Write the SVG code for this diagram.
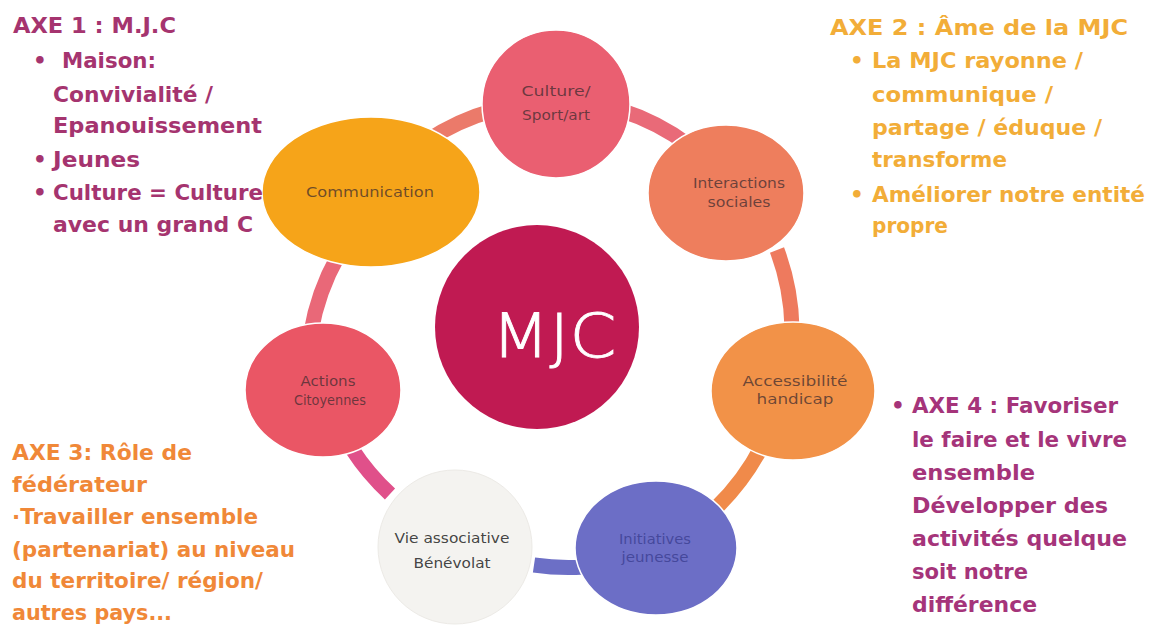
<svg xmlns="http://www.w3.org/2000/svg" width="1159" height="634" viewBox="0 0 1159 634">
<style>
.side{font-family:"DejaVu Sans","Liberation Sans",sans-serif;font-size:21.5px;font-weight:bold}
.a1{fill:#a5346f}.a2{fill:#f2ad38}.a3{fill:#f08838}.a4{fill:#a5347a}
.lbl{font-family:"DejaVu Sans","Liberation Sans",sans-serif;font-size:14.5px;text-anchor:middle;fill:#3a2a2e;fill-opacity:0.72}
.node{stroke:#ffffff;stroke-width:1.5}
.conn{fill:none;stroke-width:15;stroke-linecap:butt}
</style>
<rect width="1159" height="634" fill="#ffffff"/>

<g id="connectors">
<path class="conn" d="M425,142 A235,235 0 0 1 495,110" stroke="#eb7a6a"/>
<path class="conn" d="M620,110 A235,235 0 0 1 690,146" stroke="#e96a78"/>
<path class="conn" d="M777,250 A235,235 0 0 1 792,328" stroke="#ee7a5e"/>
<path class="conn" d="M762,446 A235,235 0 0 1 716,508" stroke="#f08a4a"/>
<path class="conn" d="M584,567 A235,235 0 0 1 534,565" stroke="#6c6fc6" stroke-width="18"/>
<path class="conn" d="M390,494 A235,235 0 0 1 352,449" stroke="#e0508a" stroke-width="18"/>
<path class="conn" d="M311,332 A235,235 0 0 1 338,256" stroke="#e96878"/>
</g>

<g id="node-mjc">
<circle cx="537" cy="327" r="102" fill="#c01a52"/>
<text x="554" y="357" font-family="DejaVu Sans, Liberation Sans, sans-serif" font-weight="200" font-size="60" fill="#ffffff" stroke="#ffffff" stroke-width="0.8" text-anchor="middle" textLength="125" lengthAdjust="spacingAndGlyphs">MJC</text>
</g>

<g id="node-culture">
<circle class="node" cx="556" cy="104" r="74" fill="#ea5f71"/>
<text class="lbl" x="556" y="96" textLength="69" lengthAdjust="spacingAndGlyphs">Culture/</text>
<text class="lbl" x="556" y="120" textLength="68" lengthAdjust="spacingAndGlyphs">Sport/art</text>
</g>

<g id="node-communication">
<ellipse class="node" cx="371" cy="192" rx="109" ry="75" fill="#f6a419"/>
<text class="lbl" x="370" y="197" font-size="15.5" textLength="128" lengthAdjust="spacingAndGlyphs">Communication</text>
</g>

<g id="node-interactions">
<ellipse class="node" cx="726" cy="193" rx="78" ry="68" fill="#ee7e5d"/>
<text class="lbl" x="739" y="188" textLength="92" lengthAdjust="spacingAndGlyphs">Interactions</text>
<text class="lbl" x="739" y="207" textLength="63" lengthAdjust="spacingAndGlyphs">sociales</text>
</g>

<g id="node-accessibilite">
<ellipse class="node" cx="793" cy="391" rx="82" ry="69" fill="#f29248"/>
<text class="lbl" x="795" y="386" textLength="105" lengthAdjust="spacingAndGlyphs">Accessibilité</text>
<text class="lbl" x="795" y="404" textLength="77" lengthAdjust="spacingAndGlyphs">handicap</text>
</g>

<g id="node-initiatives">
<ellipse class="node" cx="656" cy="548" rx="81" ry="67" fill="#6c6ec6"/>
<text class="lbl" x="655" y="544" textLength="72" lengthAdjust="spacingAndGlyphs" style="fill:#3e4194;fill-opacity:0.85">Initiatives</text>
<text class="lbl" x="655" y="562" textLength="67" lengthAdjust="spacingAndGlyphs" style="fill:#3e4194;fill-opacity:0.85">jeunesse</text>
</g>

<g id="node-vie">
<circle cx="455" cy="547" r="77" fill="#f4f3f0" stroke="#eceae6" stroke-width="1"/>
<text class="lbl" x="452" y="543" textLength="115" lengthAdjust="spacingAndGlyphs" style="fill:#2e2e2e;fill-opacity:0.9">Vie associative</text>
<text class="lbl" x="452" y="568" textLength="77" lengthAdjust="spacingAndGlyphs" style="fill:#2e2e2e;fill-opacity:0.9">Bénévolat</text>
</g>

<g id="node-actions">
<ellipse class="node" cx="323" cy="390" rx="78" ry="67" fill="#ea5665"/>
<text class="lbl" x="328" y="386" textLength="55" lengthAdjust="spacingAndGlyphs">Actions</text>
<text class="lbl" x="330" y="405" textLength="72" lengthAdjust="spacingAndGlyphs">Citoyennes</text>
</g>

<g id="axe1" class="side a1">
<text x="13" y="33" textLength="163" lengthAdjust="spacingAndGlyphs">AXE 1 : M.J.C</text>
<text x="33" y="68">•</text>
<text x="62" y="68" textLength="94" lengthAdjust="spacingAndGlyphs">Maison:</text>
<text x="53" y="102" textLength="160" lengthAdjust="spacingAndGlyphs">Convivialité /</text>
<text x="53" y="133" textLength="209" lengthAdjust="spacingAndGlyphs">Epanouissement</text>
<text x="33" y="167">•</text>
<text x="53" y="167" textLength="87" lengthAdjust="spacingAndGlyphs">Jeunes</text>
<text x="33" y="200">•</text>
<text x="53" y="200" textLength="210" lengthAdjust="spacingAndGlyphs">Culture = Culture</text>
<text x="53" y="232" textLength="200" lengthAdjust="spacingAndGlyphs">avec un grand C</text>
</g>

<g id="axe2" class="side a2">
<text x="830" y="35" textLength="298" lengthAdjust="spacingAndGlyphs">AXE 2 : Âme de la MJC</text>
<text x="850" y="68">•</text>
<text x="872" y="68" textLength="211" lengthAdjust="spacingAndGlyphs">La MJC rayonne /</text>
<text x="872" y="102" textLength="181" lengthAdjust="spacingAndGlyphs">communique /</text>
<text x="872" y="135" textLength="230" lengthAdjust="spacingAndGlyphs">partage / éduque /</text>
<text x="872" y="167" textLength="135" lengthAdjust="spacingAndGlyphs">transforme</text>
<text x="850" y="202">•</text>
<text x="872" y="202" textLength="273" lengthAdjust="spacingAndGlyphs">Améliorer notre entité</text>
<text x="872" y="233" textLength="76" lengthAdjust="spacingAndGlyphs">propre</text>
</g>

<g id="axe3" class="side a3">
<text x="12" y="460" textLength="180" lengthAdjust="spacingAndGlyphs">AXE 3: Rôle de</text>
<text x="12" y="492" textLength="135" lengthAdjust="spacingAndGlyphs">fédérateur</text>
<text x="12" y="524" textLength="246" lengthAdjust="spacingAndGlyphs">·Travailler ensemble</text>
<text x="12" y="557" textLength="283" lengthAdjust="spacingAndGlyphs">(partenariat) au niveau</text>
<text x="12" y="588" textLength="251" lengthAdjust="spacingAndGlyphs">du territoire/ région/</text>
<text x="12" y="620" textLength="160" lengthAdjust="spacingAndGlyphs">autres pays...</text>
</g>

<g id="axe4" class="side a4">
<text x="891" y="413">•</text>
<text x="912" y="413" textLength="206" lengthAdjust="spacingAndGlyphs">AXE 4 : Favoriser</text>
<text x="912" y="447" textLength="215" lengthAdjust="spacingAndGlyphs">le faire et le vivre</text>
<text x="912" y="480" textLength="123" lengthAdjust="spacingAndGlyphs">ensemble</text>
<text x="912" y="513" textLength="196" lengthAdjust="spacingAndGlyphs">Développer des</text>
<text x="912" y="546" textLength="215" lengthAdjust="spacingAndGlyphs">activités quelque</text>
<text x="912" y="579" textLength="116" lengthAdjust="spacingAndGlyphs">soit notre</text>
<text x="912" y="612" textLength="125" lengthAdjust="spacingAndGlyphs">différence</text>
</g>
</svg>
